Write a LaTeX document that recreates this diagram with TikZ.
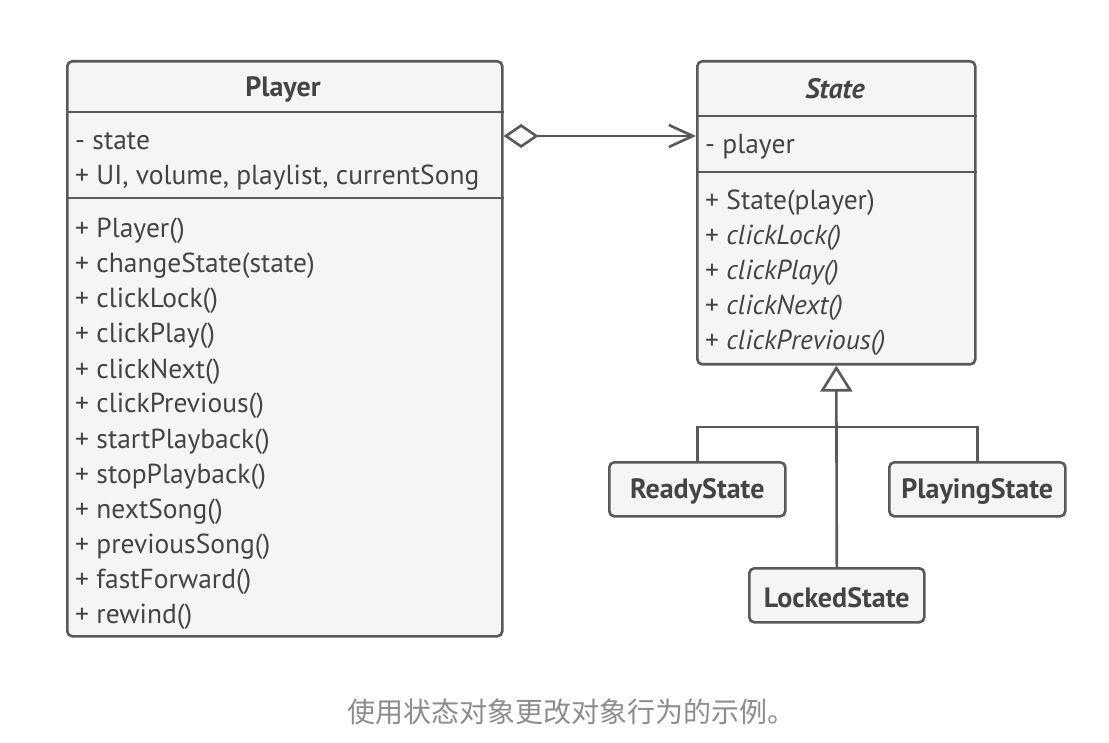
\documentclass[tikz,border=0pt]{standalone}
\usepackage{fontspec}
\setmainfont{PT Sans}
\newfontfamily\cjk{Noto Sans CJK SC}
\usetikzlibrary{arrows.meta}
\definecolor{ln}{HTML}{595959}
\definecolor{bg}{HTML}{F5F5F5}
\definecolor{tx}{HTML}{444444}
\definecolor{capc}{HTML}{8C8C8C}
\begin{document}
\begin{tikzpicture}[x=1pt,y=-1pt,
 box/.style={draw=ln,fill=bg,line width=2.6pt,rounded corners=5pt,inner sep=0pt,anchor=north west},
 sep/.style={draw=ln,line width=2.6pt},
 lbl/.style={text=tx,font=\fontsize{27.5}{32}\selectfont,anchor=base west,inner sep=0pt},
 ttl/.style={text=tx,font=\fontsize{28}{32}\selectfont\bfseries,inner sep=0pt},
 conn/.style={draw=ln,line width=2.6pt}]
\useasboundingbox (0,0) rectangle (1109,743);
% Player class
\node[box,minimum width=435pt,minimum height=575pt] (player) at (66,60) {};
\draw[sep] (player.west |- 0,112) -- (player.east |- 0,112);
\draw[sep] (player.west |- 0,198) -- (player.east |- 0,198);
\node[ttl] (ptitle) at (283,89) {Player};
\node[lbl] (pa1) at (75,150) {- state};
\node[lbl] (pa2) at (75,185) {+ UI, volume, playlist, currentSong};
\foreach \t [count=\i] in {{+ Player()},{+ changeState(state)},{+ clickLock()},{+ clickPlay()},{+ clickNext()},{+ clickPrevious()},{+ startPlayback()},{+ stopPlayback()},{+ nextSong()},{+ previousSong()},{+ fastForward()},{+ rewind()}}
  \node[lbl] (pm\i) at (75,{238+35*(\i-1)}) {\t};
% State class
\node[box,minimum width=278pt,minimum height=303pt] (state) at (696,60) {};
\draw[sep] (state.west |- 0,116) -- (state.east |- 0,116);
\draw[sep] (state.west |- 0,172) -- (state.east |- 0,172);
\node[ttl,font=\fontsize{28}{32}\selectfont\bfseries\itshape] (stitle) at (835,89) {State};
\node[lbl] (sa1) at (705,154) {- player};
\node[lbl] (sm1) at (705,210) {+ State(player)};
\node[lbl] (sm2) at (705,245) {+ \textit{clickLock()}};
\node[lbl] (sm3) at (705,280) {+ \textit{clickPlay()}};
\node[lbl] (sm4) at (705,315) {+ \textit{clickNext()}};
\node[lbl] (sm5) at (705,350) {+ \textit{clickPrevious()}};
% Subclasses
\node[box,minimum width=176pt,minimum height=54pt] (ready) at (608,461) {};
\node[ttl] (readyt) at ([yshift=-2pt]ready.center) {ReadyState};
\node[box,minimum width=176pt,minimum height=54pt] (playing) at (888,461) {};
\node[ttl] (playingt) at ([yshift=-2pt]playing.center) {PlayingState};
\node[box,minimum width=175pt,minimum height=54pt] (locked) at (748,567) {};
\node[ttl] (lockedt) at ([yshift=-2pt]locked.center) {LockedState};
% Connectors
\draw[conn,{Diamond[open,length=35pt,width=24pt]}-{Straight Barb[length=24pt,width=22pt]}] (player.east |- 0,136) -- (state.west |- 0,136);
\draw[conn,-{Triangle[open,length=26pt,width=32pt]}] (locked.north) -- (state.south);
\draw[conn] (ready.north) -- (ready.north |- 0,427) -- (playing.north |- 0,427) -- (playing.north);
% Caption
\node[text=capc,font=\cjk\fontsize{28}{32}\selectfont,inner sep=0pt] (caption) at (571,712) {使用状态对象更改对象行为的示例。};
\end{tikzpicture}
\end{document}
